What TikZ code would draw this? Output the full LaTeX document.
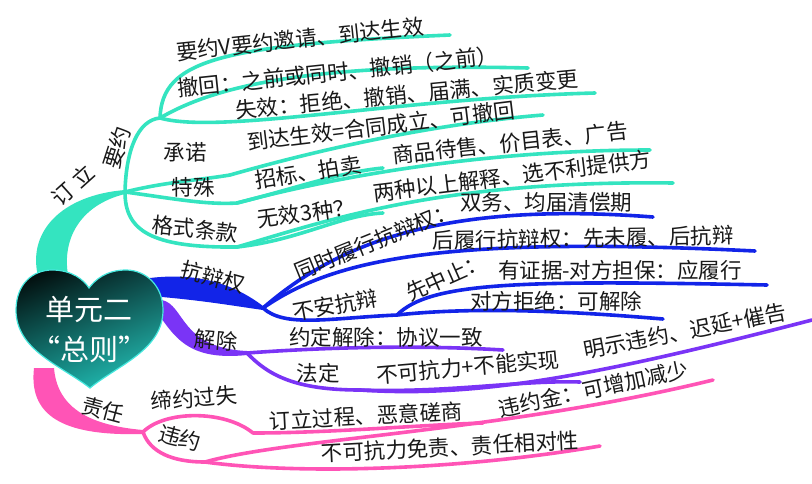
\documentclass[tikz,border=0pt]{standalone}
\usepackage{fontspec}
\newfontfamily\cjk{Noto Sans CJK SC}
\usetikzlibrary{shadings}

\definecolor{teallf}{RGB}{52,228,192}
\definecolor{bluelf}{RGB}{18,36,232}
\definecolor{purplelf}{RGB}{122,52,246}
\definecolor{pinklf}{RGB}{255,84,182}
\definecolor{heartmid}{RGB}{12,70,70}
\definecolor{heartlow}{RGB}{20,140,135}
\definecolor{heartlight}{RGB}{40,212,200}
\definecolor{heartrim}{RGB}{70,232,222}

\begin{document}
\begin{tikzpicture}[
        x=1pt, y=-1pt,
        twig/.style={line width=3.6pt, line cap=round},
        leaf/.style={font=\cjk\fontsize{21.5}{22}\selectfont, text=black!90, inner sep=0pt},
        rootlabel/.style={font=\cjk\fontsize{29}{40}\selectfont, text=white, align=center, inner sep=0pt}
    ]
        \useasboundingbox (0,0) rectangle (812,483);
        \fill[white] (0,0) rectangle (812,483);

        \coordinate (tS) at (55,280);
        \coordinate (bS) at (150,287);
        \coordinate (uS) at (156,300);
        \coordinate (pS) at (45,368);

        \coordinate (T0) at (125,192);
        \coordinate (Tyy) at (160,118);
        \coordinate (Tyy1) at (450,35);
        \coordinate (Tyy2) at (528,68);
        \coordinate (Tyy3) at (595,93);
        \coordinate (Tcn) at (230,175);
        \coordinate (Tcn1) at (543,115);
        \coordinate (Tts) at (237,203);
        \coordinate (Tts1) at (383,168);
        \coordinate (Tts2) at (650,150);
        \coordinate (Tgs) at (237,247);
        \coordinate (Tgs1) at (383,213);
        \coordinate (Tgs2) at (673,183);

        \coordinate (B0) at (263,308);
        \coordinate (Bts) at (653,217);
        \coordinate (Bhl) at (755,251);
        \coordinate (Bba) at (397,315);
        \coordinate (Bxz) at (767,285);
        \coordinate (Bdf) at (663,319);

        \coordinate (P0) at (247,353);
        \coordinate (Pyd) at (503,350);
        \coordinate (Pfd) at (360,390);
        \coordinate (Pbk) at (580,382);
        \coordinate (Pms) at (812,320);

        \coordinate (K0) at (143,432);
        \coordinate (Kdy) at (253,433);
        \coordinate (Kdy1) at (483,423);
        \coordinate (Kwy) at (205,462);
        \coordinate (Kwy1) at (713,380);
        \coordinate (Kwy2) at (600,446);

        \fill[teallf] ([xshift=-16pt]tS) .. controls (25,232) and (62,195) .. ([yshift=2pt]T0)
            -- ([yshift=-2pt]T0) .. controls (80,205) and (60,240) .. ([xshift=14pt]tS) -- cycle;
        \fill[bluelf] ([yshift=9pt]bS) .. controls (200,272) and (235,285) .. ([yshift=2pt]B0)
            -- ([yshift=-2pt]B0) .. controls (228,305) and (200,300) .. ([yshift=-9pt]bS) -- cycle;
        \fill[purplelf] ([xshift=6pt]uS) .. controls (185,305) and (180,348) .. ([yshift=2pt]P0)
            -- ([yshift=-2pt]P0) .. controls (180,362) and (172,330) .. ([xshift=-8pt]uS) -- cycle;
        \fill[pinklf] ([xshift=-11pt]pS) .. controls (28,420) and (70,436) .. ([yshift=-2pt]K0)
            -- ([yshift=2pt]K0) .. controls (85,425) and (57,405) .. ([xshift=9pt]pS) -- cycle;

        \draw[twig, teallf] (T0) .. controls (126,150) and (138,120) .. (Tyy);
        \draw[twig, teallf] (Tyy) .. controls (162,60) and (220,45) .. (Tyy1);
        \draw[twig, teallf] (Tyy) .. controls (205,92) and (290,62) .. (Tyy2);
        \draw[twig, teallf] (Tyy) .. controls (220,135) and (400,98) .. (Tyy3);
        \draw[twig, teallf] (T0) .. controls (165,182) and (200,180) .. (Tcn);
        \draw[twig, teallf] (Tcn) .. controls (300,155) and (420,125) .. (Tcn1);
        \draw[twig, teallf] (T0) .. controls (170,198) and (205,205) .. (Tts);
        \draw[twig, teallf] (Tts) .. controls (290,190) and (340,172) .. (Tts1);
        \draw[twig, teallf] (Tts) .. controls (330,178) and (480,150) .. (Tts2);
        \draw[twig, teallf] (T0) .. controls (125,230) and (150,248) .. (Tgs);
        \draw[twig, teallf] (Tgs) .. controls (300,240) and (340,215) .. (Tgs1);
        \draw[twig, teallf] (Tgs) .. controls (330,220) and (440,180) .. (Tgs2);

        \draw[twig, bluelf] (B0) .. controls (330,250) and (430,200) .. (Bts);
        \draw[twig, bluelf] (B0) .. controls (330,262) and (430,235) .. (Bhl);
        \draw[twig, bluelf] (B0) .. controls (285,328) and (330,318) .. (Bba);
        \draw[twig, bluelf] (Bba) .. controls (430,282) and (520,280) .. (Bxz);
        \draw[twig, bluelf] (Bba) .. controls (480,306) and (580,312) .. (Bdf);

        \draw[twig, purplelf] (P0) .. controls (330,347) and (420,345) .. (Pyd);
        \draw[twig, purplelf] (P0) .. controls (268,375) and (295,390) .. (Pfd);
        \draw[twig, purplelf] (Pfd) .. controls (450,393) and (520,380) .. (Pbk);
        \draw[twig, purplelf] (Pfd) .. controls (480,398) and (600,375) .. (Pms);

        \draw[twig, pinklf] (K0) .. controls (165,410) and (225,410) .. (Kdy);
        \draw[twig, pinklf] (Kdy) .. controls (330,433) and (420,425) .. (Kdy1);
        \draw[twig, pinklf] (K0) .. controls (150,452) and (172,462) .. (Kwy);
        \draw[twig, pinklf] (Kwy) .. controls (290,438) and (500,432) .. (Kwy1);
        \draw[twig, pinklf] (Kwy) .. controls (300,475) and (460,470) .. (Kwy2);

        \shade[upper left=black, upper right=heartmid, lower left=heartlow, lower right=heartlight]
            (90,388) .. controls (60,365) and (16,350) .. (16,310)
            .. controls (16,284) and (33,270) .. (52,270)
            .. controls (72,270) and (84,280) .. (89,288)
            .. controls (95,280) and (106,270) .. (126,270)
            .. controls (146,270) and (163,286) .. (163,310)
            .. controls (163,350) and (118,365) .. (90,388) -- cycle;
        \draw[heartrim, line width=1.2pt]
            (90,388) .. controls (60,365) and (16,350) .. (16,310)
            .. controls (16,284) and (33,270) .. (52,270)
            .. controls (72,270) and (84,280) .. (89,288)
            .. controls (95,280) and (106,270) .. (126,270)
            .. controls (146,270) and (163,286) .. (163,310)
            .. controls (163,350) and (118,365) .. (90,388) -- cycle;
        \node[rootlabel] (root) at (89,330) {单元二\\“总则”};

        \node[leaf, rotate=42] (dingli) at (73,185) {订 立};
        \node[leaf, rotate=72] (yaoyue) at (117,148) {要约};
        \node[leaf, rotate=6] (yy1) at (300,39) {要约V要约邀请、到达生效};
        \node[leaf, rotate=6] (yy2) at (338,72) {撤回：之前或同时、撤销（之前）};
        \node[leaf, rotate=5.4] (yy3) at (407,94) {失效：拒绝、撤销、届满、实质变更};
        \node[leaf] (chengnuo) at (185,152) {承诺};
        \node[leaf, rotate=7] (cn1) at (381,126) {到达生效=合同成立、可撤回};
        \node[leaf] (teshu) at (193,187) {特殊};
        \node[leaf, rotate=9] (ts1) at (308,172) {招标、拍卖};
        \node[leaf, rotate=6] (ts2) at (510,143) {商品待售、价目表、广告};
        \node[leaf, rotate=-6] (geshi) at (195,229) {格式条款};
        \node[leaf, rotate=8] (gs1) at (306,213) {无效3种？};
        \node[leaf, rotate=7] (gs2) at (512,176) {两种以上解释、选不利提供方};

        \node[leaf, rotate=-15] (kangbian) at (213,277) {抗辩权};
        \node[leaf, rotate=22] (kb1a) at (375,241) {同时履行抗辩权：};
        \node[leaf] (kb1b) at (546,202) {双务、均届清偿期};
        \node[leaf, rotate=1] (kb2) at (583,238) {后履行抗辩权：先未履、后抗辩};
        \node[leaf, rotate=10] (buan) at (335,305) {不安抗辩};
        \node[leaf, rotate=24] (kb3a) at (446,277) {先中止：};
        \node[leaf] (kb3b) at (620,270) {有证据-对方担保：应履行};
        \node[leaf] (kb4) at (556,301) {对方拒绝：可解除};

        \node[leaf, rotate=-5] (jiechu) at (216,340) {解除};
        \node[leaf] (jc1) at (386,337) {约定解除：协议一致};
        \node[leaf] (fading) at (318,373) {法定};
        \node[leaf, rotate=5] (fd1) at (468,367) {不可抗力+不能实现};
        \node[leaf, rotate=11] (fd2) at (685,331) {明示违约、迟延+催告};

        \node[leaf, rotate=-15] (zeren) at (103,410) {责任};
        \node[leaf, rotate=5] (diyue) at (194,398) {缔约过失};
        \node[leaf, rotate=3] (dy1) at (366,416) {订立过程、恶意磋商};
        \node[leaf, rotate=-15] (weiyue) at (180,438) {违约};
        \node[leaf, rotate=12] (wy1) at (593,389) {违约金：可增加减少};
        \node[leaf, rotate=3] (wy2) at (450,447) {不可抗力免责、责任相对性};
\end{tikzpicture}
\end{document}
